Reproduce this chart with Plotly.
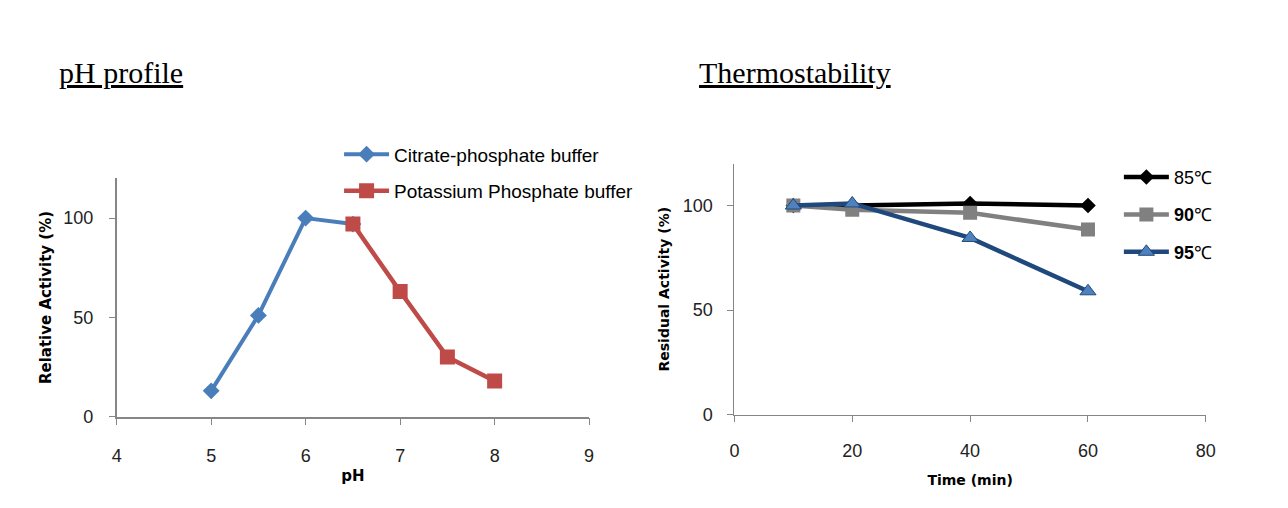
import plotly.graph_objects as go

# pH profile data
ph_citrate = [5, 5.5, 6, 6.5]
act_citrate = [13, 51, 100, 97]
ph_potassium = [6.5, 7, 7.5, 8]
act_potassium = [97, 63, 30, 18]

# thermostability data
time_min = [10, 20, 40, 60]
res_85 = [100, 100, 101, 100]
res_90 = [100, 98, 96.5, 88.5]
res_95 = [100, 101, 84.5, 59]

W, H = 1288, 508
SANS = "Liberation Sans, Arial, sans-serif"
tickfont = dict(family=SANS, size=18, color="#222")
labfont_l = dict(family="DejaVu Sans, Verdana, sans-serif", size=15, color="black")
labfont_r = dict(family="DejaVu Sans, Verdana, sans-serif", size=14, color="black")

fig = go.Figure()

fig.add_trace(go.Scatter(
    x=ph_citrate, y=act_citrate, name="Citrate-phosphate buffer",
    mode="lines+markers", line=dict(color="#4A7EBB", width=4),
    marker=dict(symbol="diamond", size=13, color="#4A7EBB"),
    xaxis="x", yaxis="y", legend="legend", legendgroup="a"
))
fig.add_trace(go.Scatter(
    x=ph_potassium, y=act_potassium, name="Potassium Phosphate buffer",
    mode="lines+markers", line=dict(color="#BE4B48", width=4.5),
    marker=dict(symbol="square", size=15, color="#BE4B48"),
    xaxis="x", yaxis="y", legend="legend", legendgroup="b"
))

fig.add_trace(go.Scatter(
    x=time_min, y=res_85, name="85℃",
    mode="lines+markers", line=dict(color="black", width=4.5),
    marker=dict(symbol="diamond", size=12, color="black"),
    xaxis="x2", yaxis="y2", legend="legend2", legendgroup="c"
))
fig.add_trace(go.Scatter(
    x=time_min, y=res_90, name="<b>90</b>℃",
    mode="lines+markers", line=dict(color="#808080", width=4.5),
    marker=dict(symbol="square", size=14, color="#808080"),
    xaxis="x2", yaxis="y2", legend="legend2", legendgroup="d"
))
fig.add_trace(go.Scatter(
    x=time_min, y=res_95, name="<b>95</b>℃",
    mode="lines+markers", line=dict(color="#1F497D", width=4.5),
    marker=dict(symbol="triangle-up", size=14, color="#4F81BD",
                line=dict(color="#1F497D", width=1)),
    xaxis="x2", yaxis="y2", legend="legend2", legendgroup="e"
))

axis_common = dict(
    showline=True, linecolor="#868686",
    ticks="outside", ticklen=6, tickcolor="#868686",
    showgrid=False, zeroline=False, tickfont=tickfont,
)

fig.update_layout(
    width=W, height=H,
    margin=dict(l=0, r=0, t=0, b=0),
    paper_bgcolor="white", plot_bgcolor="white",
    showlegend=True,
    xaxis=dict(axis_common, domain=[113 / W, 591 / W], range=[4, 9], dtick=1,
               linewidth=1.5, ticklen=7, ticklabelstandoff=15,
               title=dict(text="<b>pH</b>", font=labfont_l, standoff=6), anchor="y"),
    yaxis=dict(axis_common, domain=[1 - 425 / H, 1 - 182 / H], range=[0, 120],
               tickvals=[0, 50, 100], linewidth=1.5, ticklabelstandoff=12,
               title=dict(text="<b>Relative Activity (%)</b>", font=labfont_l, standoff=8), anchor="x"),
    xaxis2=dict(axis_common, domain=[738 / W, 1215 / W], range=[0, 80], dtick=20,
                linewidth=1, ticklabelstandoff=14,
                title=dict(text="<b>Time (min)</b>", font=labfont_r, standoff=14), anchor="y2"),
    yaxis2=dict(axis_common, domain=[1 - 423 / H, 1 - 167 / H], range=[0, 120],
                tickvals=[0, 50, 100], linewidth=1, ticklabelstandoff=11,
                title=dict(text="<b>Residual Activity (%)</b>", font=labfont_r, standoff=9), anchor="x2"),
    legend=dict(x=338 / W, y=1 - 138 / H, xanchor="left", yanchor="top",
                font=dict(family=SANS, size=19, color="black"), itemwidth=45,
                tracegroupgap=9, bgcolor="rgba(0,0,0,0)"),
    legend2=dict(x=1127 / W, y=1 - 162 / H, xanchor="left", yanchor="top",
                 font=dict(family=SANS, size=18, color="black"), itemwidth=45,
                 tracegroupgap=11, bgcolor="rgba(0,0,0,0)"),
    annotations=[
        dict(text="<u>pH profile</u>", x=53 / W, y=1 - 74 / H, xref="paper", yref="paper",
             xanchor="left", yanchor="middle", showarrow=False,
             font=dict(family="Liberation Serif, serif", size=30, color="black")),
        dict(text="<u>Thermostability</u>", x=700 / W, y=1 - 74 / H, xref="paper", yref="paper",
             xanchor="left", yanchor="middle", showarrow=False,
             font=dict(family="Liberation Serif, serif", size=30, color="black")),
    ],
)

# fit the figure to the browser window (no body margin, no scrollbars)
fit_js = """
var gd = document.getElementById('{plot_id}');
document.body.style.margin = '0px';
document.body.style.overflow = 'hidden';
return Plotly.relayout(gd, {width: window.innerWidth, height: window.innerHeight});
"""

fig.write_html("out.html", config={"displayModeBar": False}, post_script=fit_js)
